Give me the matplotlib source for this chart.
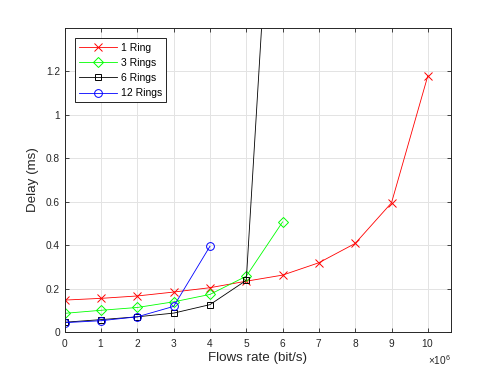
import numpy as np
import matplotlib.pyplot as plt
from matplotlib.ticker import ScalarFormatter, FuncFormatter, MultipleLocator

plt.rcParams['font.family'] = ['Liberation Sans', 'DejaVu Sans']
plt.rcParams['mathtext.fontset'] = 'custom'
plt.rcParams['mathtext.rm'] = 'Liberation Sans'

# flow rates in bit/s
rate_1 = [0, 1e6, 2e6, 3e6, 4e6, 5e6, 6e6, 7e6, 8e6, 9e6, 10e6]
delay_1 = [0.147, 0.155, 0.166, 0.184, 0.204, 0.234, 0.262, 0.319, 0.408, 0.595, 1.18]

rate_3 = [0, 1e6, 2e6, 3e6, 4e6, 5e6, 6e6]
delay_3 = [0.086, 0.100, 0.113, 0.139, 0.173, 0.257, 0.507]

rate_6 = [0, 1e6, 2e6, 3e6, 4e6, 5e6, 6e6]
delay_6 = [0.045, 0.057, 0.070, 0.087, 0.126, 0.238, 3.0]

rate_12 = [0, 1e6, 2e6, 3e6, 4e6]
delay_12 = [0.043, 0.052, 0.070, 0.118, 0.395]


class Sci6(ScalarFormatter):
    def _set_order_of_magnitude(self):
        self.orderOfMagnitude = 6


fig = plt.figure(figsize=(4.98, 3.74), dpi=100)
ax = fig.add_axes([0.13, 0.1123, 0.775, 0.8127])

ax.plot(rate_1, delay_1, color='#ff0000', marker='x', lw=0.6, ms=6, mew=0.7, mfc='none', label='1 Ring')
ax.plot(rate_3, delay_3, color='#00ff00', marker='D', lw=0.6, ms=4.8, mew=0.7, mfc='none', label='3 Rings')
ax.plot(rate_6, delay_6, color='black', marker='s', lw=0.6, ms=4.6, mew=0.7, mfc='none', label='6 Rings')
ax.plot(rate_12, delay_12, color='#0000ff', marker='o', lw=0.6, ms=5.6, mew=0.7, mfc='none', label='12 Rings')

ax.set_xlim(0, 10.63e6)
ax.set_ylim(0, 1.4)
ax.xaxis.set_major_locator(MultipleLocator(1e6))
ax.set_yticks([0, 0.2, 0.4, 0.6, 0.8, 1.0, 1.2])
ax.yaxis.set_major_formatter(FuncFormatter(lambda v, p: '%g' % v))
fmt = Sci6(useMathText=True)
fmt.set_scientific(True)
ax.xaxis.set_major_formatter(fmt)

ax.grid(True, color='#e3e3e3', lw=0.7)
ax.set_axisbelow(True)
for s in ax.spines.values():
    s.set_color('#262626')
    s.set_linewidth(0.7)
ax.tick_params(direction='in', length=3, width=0.6, top=True, right=True,
               labelsize=7.3, colors='#262626', labelcolor='#262626')
ax.xaxis.get_offset_text().set_fontsize(7.3)
ax.xaxis.get_offset_text().set_color('#262626')

ax.set_xlabel('Flows rate (bit/s)', fontsize=9.6, color='#262626', labelpad=2)
ax.set_ylabel('Delay (ms)', fontsize=9.6, color='#262626', labelpad=5)

leg = ax.legend(loc='upper left', fontsize=7.5, handlelength=3.6, handletextpad=0.4,
                borderaxespad=1.0, labelspacing=0.5, fancybox=False, framealpha=1)
leg.get_frame().set_edgecolor('black')
leg.get_frame().set_linewidth(0.6)

fig.savefig('out.png', dpi=100)
